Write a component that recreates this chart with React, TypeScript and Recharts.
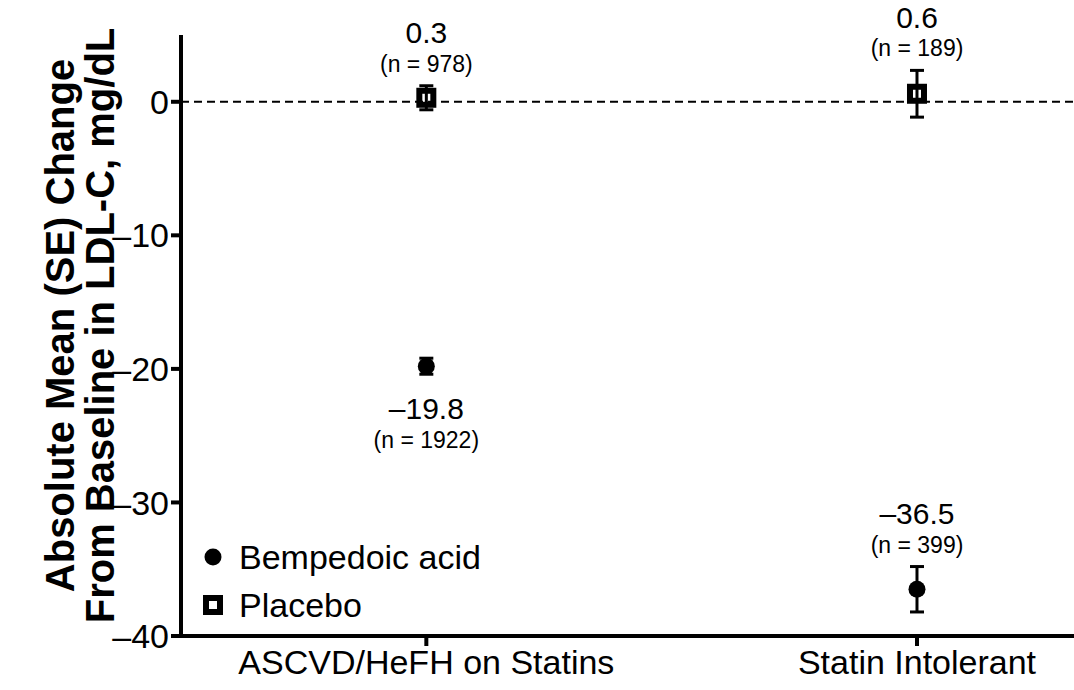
import React from 'react';
import {
  ComposedChart, Scatter, XAxis, YAxis, ErrorBar,
  ReferenceLine, ReferenceDot, Legend
} from 'recharts';

const groups = ['ASCVD/HeFH on Statins', 'Statin Intolerant'];

const bempedoicMean = [-19.8, -36.5];
const bempedoicSE = [0.6, 1.7];
const bempedoicN = [1922, 399];

const placeboMean = [0.3, 0.6];
const placeboSE = [0.9, 1.75];
const placeboN = [978, 189];

const yTicks = [0, -10, -20, -30, -40];

const FONT = '"Liberation Sans", Arial, Helvetica, sans-serif';

// groups sit at 1 and 3 on a 0..3.64 numeric axis
const groupPos = (i: number) => i * 2 + 1;

const bempedoicRows = groups.map((g, i) => ({
  x: groupPos(i), y: bempedoicMean[i], err: bempedoicSE[i], n: bempedoicN[i],
}));
const placeboRows = groups.map((g, i) => ({
  x: groupPos(i), y: placeboMean[i], err: placeboSE[i], n: placeboN[i],
}));

const fmt = (v: number) => (v < 0 ? '\u2013' + Math.abs(v) : String(v));

const CircleShape = (p: any) => <circle cx={p.cx} cy={p.cy} r={8.5} fill="#000" />;
const SquareShape = (p: any) => (
  <rect x={p.cx - 7} y={p.cy - 7} width={14} height={14} fill="none" stroke="#000" strokeWidth={6} />
);

// label drawn at the end of the error bar, above or below
const statLabel = (value: number, n: number, below: boolean) => (props: any) => {
  const vb = props.viewBox || {};
  const cx = vb.x + (vb.width || 0) / 2;
  const cy = vb.y + (vb.height || 0) / 2;
  const valueY = below ? cy + 34 : cy - 53;
  const nY = below ? cy + 66 : cy - 22;
  return (
    <g fontFamily={FONT} fill="#000">
      <text x={cx} y={valueY} textAnchor="middle" dominantBaseline="central" fontSize={30}>{fmt(value)}</text>
      <text x={cx} y={nY} textAnchor="middle" dominantBaseline="central" fontSize={23}>(n = {n})</text>
    </g>
  );
};

const YTitle = (props: any) => {
  const vb = props.viewBox || {};
  const cy = vb.y + vb.height / 2 - 10;
  return (
    <g fontFamily={FONT} fontWeight="bold" fontSize={40} fill="#000">
      <text transform={`translate(60,${cy}) rotate(-90)`} textAnchor="middle" dominantBaseline="central">
        Absolute Mean (SE) Change
      </text>
      <text transform={`translate(100,${cy}) rotate(-90)`} textAnchor="middle" dominantBaseline="central">
        From Baseline in LDL-C, mg/dL
      </text>
    </g>
  );
};

const LegendBox = () => (
  <div style={{ fontFamily: FONT, fontSize: 34, color: '#000', lineHeight: '48px' }}>
    <div style={{ display: 'flex', alignItems: 'center', height: 48 }}>
      <svg width={36} height={24}><circle cx={10} cy={12} r={8.5} fill="#000" /></svg>
      <span>Bempedoic acid</span>
    </div>
    <div style={{ display: 'flex', alignItems: 'center', height: 48 }}>
      <svg width={36} height={24}><rect x={3} y={5} width={14} height={14} fill="none" stroke="#000" strokeWidth={6} /></svg>
      <span>Placebo</span>
    </div>
  </div>
);

export default function App() {
  const bempedoicBelow = [true, false];
  return (
    <div style={{ position: 'absolute', left: 0, top: 0, width: 1074, height: 690, background: '#fff' }}>
      <ComposedChart width={1074} height={690} margin={{ top: 35, right: 0, bottom: 0, left: 0 }}>
        <XAxis
          type="number"
          dataKey="x"
          domain={[0, 3.64]}
          ticks={[1, 3]}
          tickFormatter={(v: number) => groups[(v - 1) / 2]}
          height={54}
          axisLine={{ stroke: '#000', strokeWidth: 4 }}
          tickLine={{ stroke: '#000', strokeWidth: 4 }}
          tickSize={10}
          tickMargin={4}
          tick={{ fill: '#000', fontSize: 34, fontFamily: FONT }}
          allowDataOverflow
        />
        <YAxis
          type="number"
          dataKey="y"
          domain={[-40, 5]}
          ticks={yTicks}
          tickFormatter={fmt}
          width={181}
          axisLine={{ stroke: '#000', strokeWidth: 4 }}
          tickLine={{ stroke: '#000', strokeWidth: 4 }}
          tickSize={10}
          tickMargin={2}
          tick={{ fill: '#000', fontSize: 34, fontFamily: FONT }}
          label={YTitle}
          allowDataOverflow
        />
        <ReferenceLine y={0} stroke="#000" strokeWidth={2} strokeDasharray="8 5" />
        <Scatter name="Placebo" data={placeboRows} shape={SquareShape} isAnimationActive={false}>
          <ErrorBar dataKey="err" direction="y" width={7} stroke="#000" strokeWidth={3} />
        </Scatter>
        <Scatter name="Bempedoic acid" data={bempedoicRows} shape={CircleShape} isAnimationActive={false}>
          <ErrorBar dataKey="err" direction="y" width={7} stroke="#000" strokeWidth={3} />
        </Scatter>
        {placeboRows.map((r, i) => (
          <ReferenceDot key={'p' + i} x={r.x} y={r.y + r.err} r={0} fill="none" stroke="none"
            ifOverflow="visible" label={statLabel(r.y, r.n, false)} />
        ))}
        {bempedoicRows.map((r, i) => (
          <ReferenceDot key={'b' + i} x={r.x} y={bempedoicBelow[i] ? r.y - r.err : r.y + r.err} r={0}
            fill="none" stroke="none" ifOverflow="visible"
            label={statLabel(r.y, r.n, bempedoicBelow[i])} />
        ))}
        <Legend
          layout="vertical"
          align="center"
          verticalAlign="middle"
          content={LegendBox}
          wrapperStyle={{ left: 203, top: 533, width: 'auto', height: 'auto' }}
        />
      </ComposedChart>
    </div>
  );
}
